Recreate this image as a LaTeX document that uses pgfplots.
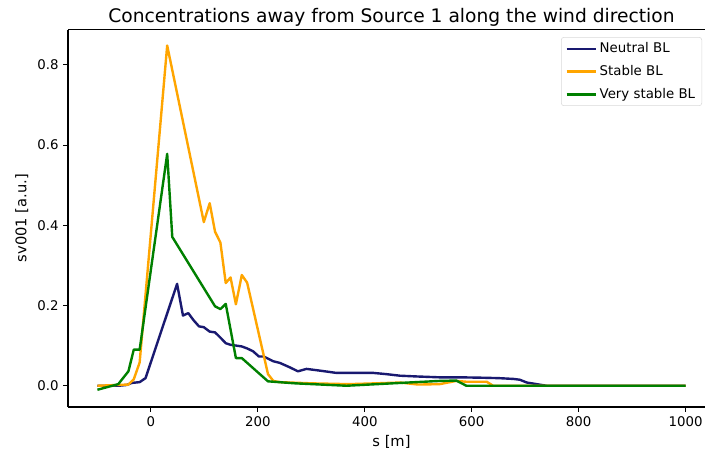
\documentclass[border=0pt]{standalone}
\usepackage{pgfplots}
\pgfplotsset{compat=1.18}
\usepackage{fontspec}
\setmainfont{DejaVu Sans}
\definecolor{cneutral}{RGB}{25,25,112}
\definecolor{cstable}{RGB}{255,165,0}
\definecolor{cvstable}{RGB}{0,128,0}
\begin{document}
\begin{tikzpicture}
\path[use as bounding box] (-51pt,-36pt) rectangle (477.75pt,305.25pt);
\begin{axis}[
  at={(0pt,0pt)}, anchor=south west,
  scale only axis,
  width=485.25pt, height=283.125pt,
  xmin=-155, xmax=1055,
  ymin=-0.053, ymax=0.888,
  axis x line*=bottom, axis y line*=left,
  xtick={0,200,400,600,800,1000},
  ytick={0,0.2,0.4,0.6,0.8},
  xticklabel style={/pgf/number format/.cd,1000 sep={}},
  yticklabel style={/pgf/number format/.cd,fixed,fixed zerofill,precision=1},
  /pgf/number format/assume math mode=true,
  tick label style={font=\fontsize{10}{12}\selectfont},
  tick align=outside,
  major tick length=3.5pt,
  axis line style={line width=0.8pt},
  every tick/.style={black, line width=0.8pt},
  title={Concentrations away from Source 1 along the wind direction},
  title style={font=\fontsize{14}{16}\selectfont, at={(0.5,1)}, anchor=base, yshift=-0.75pt},
  xlabel={s [m]},
  ylabel={sv001 [a.u.]},
  label style={font=\fontsize{11}{13}\selectfont},
  legend style={at={(0.98,0.98)}, anchor=north east, font=\fontsize{10}{12}\selectfont,
    draw=black!15, rounded corners=2pt, inner xsep=3pt, inner ysep=2pt, row sep=4pt},
  legend cell align=left,
  legend image code/.code={\draw[#1] (0pt,0pt) -- (22pt,0pt);},
  every axis plot/.append style={line width=1.8pt, line join=round},
]
\draw[line width=0.8pt] (rel axis cs:0,1) -- (rel axis cs:1,1);
\addplot[color=cneutral] coordinates {
(-100,0.0) (-60,0.0) (-45,0.002) (-36,0.007) (-21,0.009) (-10,0.019)
(49,0.254) (60,0.175) (70,0.181) (80,0.163) (90,0.148) (99,0.146)
(110,0.135) (120,0.133) (130,0.12) (140,0.106) (149,0.102) (160,0.1)
(170,0.098) (180,0.093) (191,0.086) (202,0.073) (211,0.073) (220,0.067)
(229,0.061) (241,0.057) (258,0.047) (275,0.036) (291,0.042) (320,0.037)
(347,0.032) (380,0.032) (416,0.032) (440,0.029) (466,0.025) (500,0.023)
(540,0.021) (578,0.021) (620,0.02) (650,0.019) (678,0.017) (690,0.015)
(703,0.008) (740,0.0) (1000,0.0)
};
\addlegendentry{Neutral BL}
\addplot[color=cstable] coordinates {
(-100,0.0) (-42,0.003) (-32,0.016) (-21,0.058) (30.5,0.848) (99,0.408)
(110,0.455) (120,0.384) (130,0.357) (140,0.256) (149,0.27) (159,0.203)
(170,0.276) (180,0.257) (219,0.029) (229,0.012) (241,0.009) (300,0.006)
(370,0.004) (420,0.006) (466,0.008) (500,0.003) (540,0.004) (571,0.012)
(590,0.01) (628,0.01) (640,0.0) (1000,0.0)
};
\addlegendentry{Stable BL}
\addplot[color=cvstable] coordinates {
(-100,-0.01) (-61,0.004) (-42,0.036) (-32,0.09) (-21,0.09) (30.5,0.578)
(40,0.371) (120,0.198) (130,0.191) (140,0.204) (159,0.069) (170,0.069)
(219,0.011) (270,0.006) (366,0.0) (466,0.007) (540,0.012) (571,0.013)
(590,0.0) (1000,0.0)
};
\addlegendentry{Very stable BL}
\end{axis}
\end{tikzpicture}
\end{document}
